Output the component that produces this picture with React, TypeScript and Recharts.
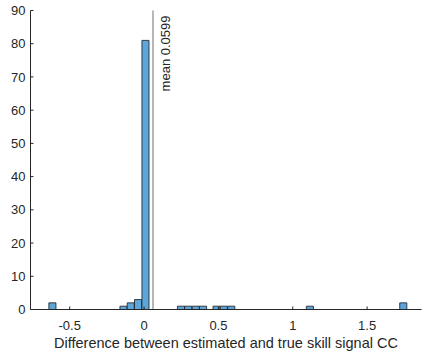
import React from 'react';
import { ComposedChart, Bar, XAxis, YAxis, ReferenceLine, Label } from 'recharts';

const binCenters = [-0.616, -0.138, -0.089, -0.04, 0.01, 0.249, 0.298, 0.348, 0.397, 0.488, 0.537, 0.587, 1.116, 1.744];
const binCounts = [2, 1, 2, 3, 81, 1, 1, 1, 1, 1, 1, 1, 1, 2];
const xTicks = [-0.5, 0, 0.5, 1, 1.5];
const yTicks = [0, 10, 20, 30, 40, 50, 60, 70, 80, 90];
const meanValue = 0.0599;
const meanLabel = 'mean 0.0599';
const xLabel = 'Difference between estimated and true skill signal CC';

const data = binCenters.map((c, i) => ({ x: c, count: binCounts[i] }));

const FONT = '"Liberation Sans", Arial, Helvetica, sans-serif';
const AX = '#262626';

const MeanLabel = (props: any) => {
  const vb = props.viewBox || {};
  const x = (vb.x ?? 0) + 17.5;
  const y = (vb.y ?? 0) + 5;
  return (
    <text
      x={x}
      y={y}
      transform={`rotate(-90 ${x} ${y})`}
      textAnchor="end"
      fontSize={13}
      fontFamily={FONT}
      fill={AX}
    >
      {meanLabel}
    </text>
  );
};

export default function App() {
  return (
    <div style={{ position: 'absolute', left: 0, top: 0, width: 422, height: 356, background: '#fff' }}>
      <ComposedChart
        width={422}
        height={356}
        data={data}
        margin={{ top: 10.5, right: 0, bottom: 0, left: 0 }}
        style={{ fontFamily: FONT }}
      >
        <XAxis
          xAxisId="b"
          dataKey="x"
          type="number"
          domain={[-0.764, 1.866]}
          ticks={xTicks}
          allowDataOverflow
          height={46.5}
          stroke={AX}
          tickSize={-3}
          tickMargin={14.5}
          tick={{ fill: AX, fontSize: 13, fontFamily: FONT }}
          interval={0}
        >
          <Label value={xLabel} position="insideBottom" offset={8.5} fill={AX} fontSize={14.5} fontFamily={FONT} />
        </XAxis>
        <XAxis
          xAxisId="t"
          dataKey="x"
          type="number"
          orientation="top"
          domain={[-0.764, 1.866]}
          ticks={xTicks}
          allowDataOverflow
          height={0}
          stroke={AX}
          tickSize={-3}
          tickFormatter={() => ''}
          interval={0}
        />
        <YAxis
          yAxisId="l"
          type="number"
          domain={[0, 90]}
          ticks={yTicks}
          width={30.5}
          stroke={AX}
          tickSize={-3}
          tickMargin={8}
          tick={{ fill: AX, fontSize: 13, fontFamily: FONT }}
          interval={0}
        />
        <YAxis
          yAxisId="r"
          orientation="right"
          type="number"
          domain={[0, 90]}
          ticks={yTicks}
          width={0.5}
          axisLine={false}
          stroke={AX}
          tickSize={-3}
          tickFormatter={() => ''}
          interval={0}
        />
        <Bar
          xAxisId="b"
          yAxisId="l"
          dataKey="count"
          barSize={7.1}
          fill="#5DA5DA"
          stroke="#1a1a1a"
          strokeWidth={0.8}
          isAnimationActive={false}
        />
        <ReferenceLine
          xAxisId="b"
          yAxisId="l"
          x={meanValue}
          stroke="#a0a0a0"
          strokeWidth={1.5}
          label={<MeanLabel />}
        />
      </ComposedChart>
    </div>
  );
}
